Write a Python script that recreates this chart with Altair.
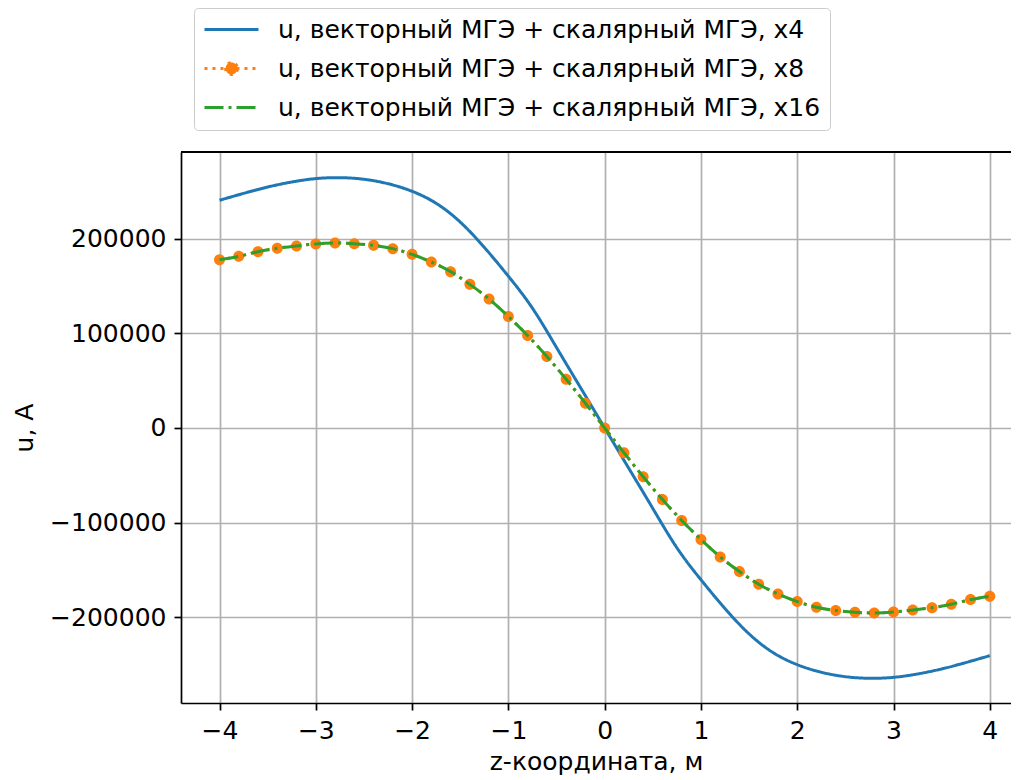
import altair as alt
import pandas as pd

LABELS = [
    "u, векторный МГЭ + скалярный МГЭ, x4",
    "u, векторный МГЭ + скалярный МГЭ, x8",
    "u, векторный МГЭ + скалярный МГЭ, x16",
]
COLORS = ["#1f77b4", "#ff7f0e", "#2ca02c"]
DASHES = [[1, 0], [3, 5], [19, 5, 3, 5]]

Z_BLUE = [-4.0, -3.75, -3.5, -3.25, -3.0, -2.75, -2.5, -2.25, -2.0, -1.75, -1.5,
          -1.25, -1.0, -0.75, -0.5, -0.25, 0.0, 0.25, 0.5, 0.75, 1.0, 1.25, 1.5,
          1.75, 2.0, 2.25, 2.5, 2.75, 3.0, 3.25, 3.5, 3.75, 4.0]
U_BLUE = [240500, 247800, 254500, 259800, 263400, 264400, 262700, 258000, 250000,
          237300, 217500, 190800, 160300, 126500, 85000, 42500, 0, -42500, -85000,
          -126500, -160300, -190800, -217500, -237300, -250000, -258000, -262700,
          -264400, -263400, -259800, -254500, -247800, -240500]

Z_ORANGE = [-4.0, -3.8, -3.6, -3.4, -3.2, -3.0, -2.8, -2.6, -2.4, -2.2, -2.0, -1.8,
            -1.6, -1.4, -1.2, -1.0, -0.8, -0.6, -0.4, -0.2, 0.0, 0.2, 0.4, 0.6, 0.8,
            1.0, 1.2, 1.4, 1.6, 1.8, 2.0, 2.2, 2.4, 2.6, 2.8, 3.0, 3.2, 3.4, 3.6, 3.8, 4.0]
U_ORANGE = [177800, 181300, 186200, 189800, 192300, 194400, 195400, 194700, 192900,
            189400, 183400, 175300, 165100, 151700, 136200, 117800, 97700, 75500,
            51500, 26100, 0, -26100, -51500, -75500, -97700, -117800, -136200,
            -151700, -165100, -175300, -183400, -189400, -192900, -194700, -195400,
            -194400, -192300, -189800, -186200, -181300, -177800]

Z_GREEN = list(Z_ORANGE)
U_GREEN = list(U_ORANGE)

X_TICKS = [-4, -3, -2, -1, 0, 1, 2, 3, 4]
Y_TICKS = [-200000, -100000, 0, 100000, 200000]
X_DOMAIN = [-4.4, 4.22]
Y_DOMAIN = [-290500, 291500]
X_TITLE = "z-координата, м"
Y_TITLE = "u, А"

df_blue = pd.DataFrame({"z": Z_BLUE, "u": U_BLUE, "s": LABELS[0]})
df_orange = pd.DataFrame({"z": Z_ORANGE, "u": U_ORANGE, "s": LABELS[1]})
df_green = pd.DataFrame({"z": Z_GREEN, "u": U_GREEN, "s": LABELS[2]})

FONT = "DejaVu Sans"
FS = 25
# line from -1..1 plus a small filled circle in the middle (legend symbol of the x8 series)
CIRCLE_PATH = "M-1,0L1,0M0.22,0A0.22,0.22,0,1,1,-0.22,0A0.22,0.22,0,1,1,0.22,0Z"
SHAPES = ["stroke", CIRCLE_PATH, "stroke"]

x_scale = alt.Scale(domain=X_DOMAIN, nice=False, zero=False)
x_enc = alt.X("z:Q", scale=x_scale,
              axis=alt.Axis(values=X_TICKS, format="d", title=X_TITLE))
y_enc = alt.Y("u:Q", scale=alt.Scale(domain=Y_DOMAIN, nice=False, zero=False),
              axis=alt.Axis(values=Y_TICKS, format="d", title=Y_TITLE))

legend = alt.Legend(
    orient="none", legendX=13, legendY=-144, title=None,
    symbolSize=2916, symbolStrokeWidth=3, symbolFillColor=COLORS[1],
    labelFont=FONT, labelFontSize=FS, labelColor="black", labelLimit=0,
    labelOffset=18, rowPadding=13, padding=9, clipHeight=25,
    strokeColor="#cccccc", fillColor="white", cornerRadius=4,
)
color_enc = alt.Color("s:N", scale=alt.Scale(domain=LABELS, range=COLORS), legend=legend)
dash_enc = alt.StrokeDash("s:N", scale=alt.Scale(domain=LABELS, range=DASHES), legend=legend)
shape_enc = alt.Shape("s:N", scale=alt.Scale(domain=LABELS, range=SHAPES), legend=legend)


def line_layer(df):
    return alt.Chart(df).mark_line(strokeWidth=3, interpolate="natural").encode(
        x=x_enc, y=y_enc, color=color_enc, strokeDash=dash_enc)


blue = line_layer(df_blue)
orange = line_layer(df_orange)
orange_pts = alt.Chart(df_orange).mark_point(filled=True, size=2500, opacity=1,
                                             strokeWidth=0, fill=COLORS[1]).encode(
    x=x_enc, y=y_enc, shape=shape_enc)
green = line_layer(df_green)
top_frame = alt.Chart(df_blue).mark_rule(color="black", strokeWidth=1.7).encode(
    x=alt.X(datum=X_DOMAIN[0], scale=x_scale, title=X_TITLE),
    x2=alt.X2(datum=X_DOMAIN[1]), y=alt.value(0))

chart = alt.layer(blue, orange, orange_pts, green, top_frame).properties(
    width=830, height=551,
    autosize=alt.AutoSizeParams(type="none"),
    padding={"left": 173, "top": 144, "right": 0, "bottom": 72},
).configure_view(stroke=None).configure_axis(
    labelFont=FONT, labelFontSize=FS, labelColor="black",
    titleFont=FONT, titleFontSize=FS, titleFontWeight="normal", titleColor="black",
    tickColor="black", tickWidth=1.7, tickSize=7, labelPadding=8,
    domainColor="black", domainWidth=1.7,
    gridColor="#b0b0b0", gridWidth=1.7,
).configure_axisX(titlePadding=6).configure_axisY(titlePadding=12)

chart.save("out.html", embed_options={"renderer": "svg", "actions": False})
